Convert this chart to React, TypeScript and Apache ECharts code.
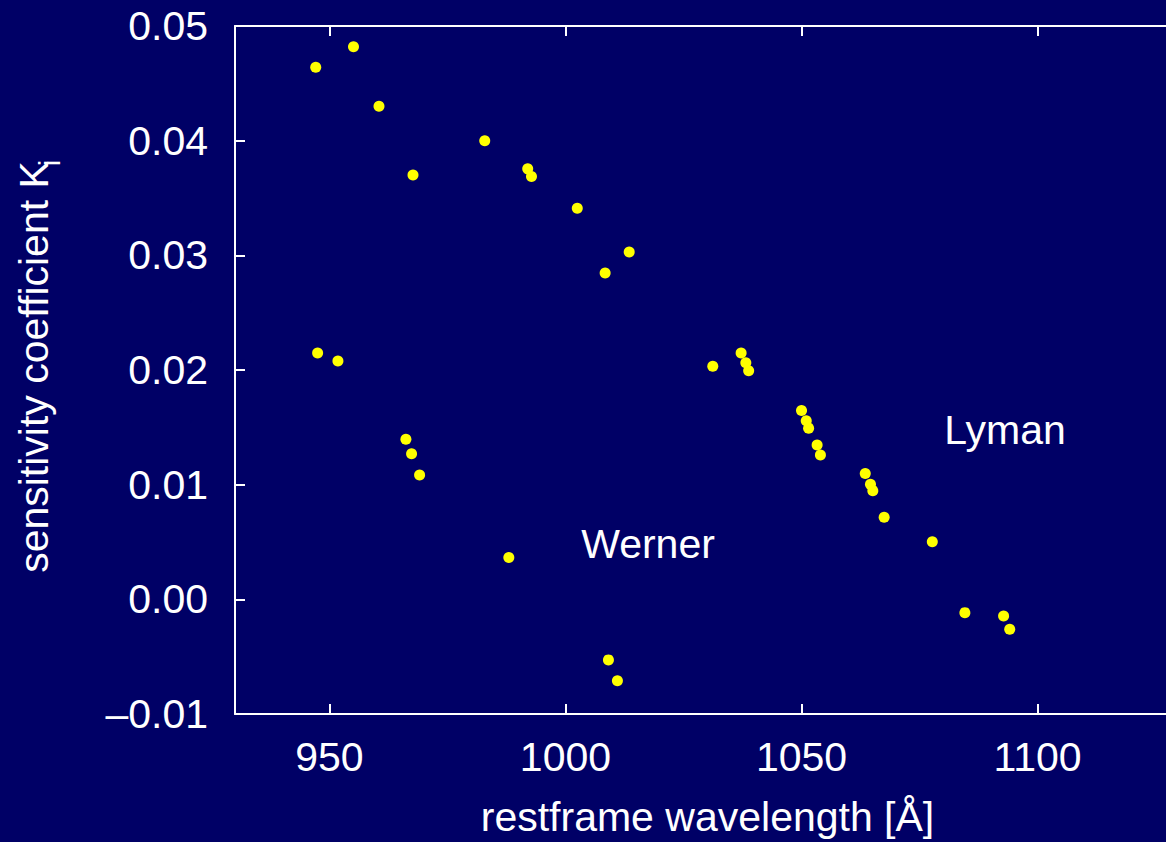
import React, { useEffect, useRef } from "react";
import * as echarts from "echarts";

// restframe wavelength [Å], sensitivity coefficient K_i
const wavelengths: number[] = [
  947.1, 955.1, 960.5, 982.9, 967.7, 992.0, 992.8, 1002.5, 1013.5, 1008.4,
  947.5, 951.8, 966.2, 967.4, 969.1, 988.0, 1009.1, 1011.0,
  1031.2, 1037.2, 1038.2, 1038.8, 1050.0, 1051.0, 1051.5, 1053.3, 1054.0,
  1063.5, 1064.6, 1065.1, 1067.5,
  1077.7, 1084.6, 1092.8, 1094.1,
];
const coefficients: number[] = [
  0.0464, 0.0482, 0.0430, 0.0400, 0.0370, 0.03754, 0.03687, 0.0341, 0.0303, 0.02846,
  0.02148, 0.02078, 0.01397, 0.0127, 0.01084, 0.00365, -0.00528, -0.0071,
  0.02032, 0.02148, 0.02064, 0.01994, 0.01646, 0.01557, 0.01493, 0.01345, 0.01258,
  0.01098, 0.01003, 0.00948, 0.00716,
  0.00502, -0.00116, -0.00145, -0.00261,
];
const xTickValues: number[] = [950, 1000, 1050, 1100];
const xRange: number[] = [930, 1127.2];
const yRange: number[] = [-0.01, 0.05];
const yStep = 0.01;
const xTitle = "restframe wavelength [Å]";
const yTitle = "sensitivity coefficient K";
const yTitleSub = "i";
const annotations: string[] = ["Werner", "Lyman"];

const FONT = '"Liberation Sans", Arial, Helvetica, sans-serif';
const BG = "#000066";
const FG = "#ffffff";

export default function App() {
  const ref = useRef<HTMLDivElement>(null);
  useEffect(() => {
    if (!ref.current) return;
    const chart = echarts.init(ref.current, undefined, { renderer: "svg" });
    const points = wavelengths.map((w, i) => [w, coefficients[i]]);
    const axisLine = { show: true, onZero: false, lineStyle: { color: FG, width: 2 } };
    chart.setOption({
      animation: false,
      backgroundColor: BG,
      grid: { left: 235, right: 0, top: 26, bottom: 126, containLabel: false },
      xAxis: [
        {
          type: "value",
          position: "bottom",
          min: xRange[0],
          max: xRange[1],
          axisLine,
          splitLine: { show: false },
          axisTick: { show: true, inside: true, length: 10, lineStyle: { color: FG, width: 2 }, customValues: xTickValues },
          axisLabel: {
            color: FG,
            fontSize: 41,
            fontFamily: FONT,
            margin: 22,
            customValues: xTickValues,
            formatter: (v: number) => String(v),
          },
          name: xTitle,
          nameLocation: "middle",
          nameGap: 82,
          nameTextStyle: { color: FG, fontSize: 41, fontFamily: FONT, padding: [0, 0, 0, 14] },
        },
        {
          type: "value",
          position: "top",
          min: xRange[0],
          max: xRange[1],
          axisLine,
          splitLine: { show: false },
          axisTick: { show: true, inside: true, length: 10, lineStyle: { color: FG, width: 2 }, customValues: xTickValues },
          axisLabel: { show: false },
        },
      ],
      yAxis: {
        type: "value",
        min: yRange[0],
        max: yRange[1],
        interval: yStep,
        axisLine,
        splitLine: { show: false },
        axisTick: { show: true, inside: true, length: 10, lineStyle: { color: FG, width: 2 } },
        axisLabel: {
          color: FG,
          fontSize: 41,
          fontFamily: FONT,
          margin: 27,
          formatter: (v: number) => (v < -1e-9 ? "–" + Math.abs(v).toFixed(2) : Math.abs(v).toFixed(2)),
        },
      },
      graphic: [
        {
          type: "text",
          x: 33.8,
          y: 367,
          rotation: Math.PI / 2,
          style: { text: yTitle, fill: FG, font: `41px ${FONT}`, align: "center", verticalAlign: "middle" },
        },
        {
          type: "text",
          x: 50,
          y: 163,
          rotation: Math.PI / 2,
          style: { text: yTitleSub, fill: FG, font: `29px ${FONT}`, align: "center", verticalAlign: "middle" },
        },
        {
          type: "text",
          x: 648,
          y: 544,
          style: { text: annotations[0], fill: FG, font: `41px ${FONT}`, align: "center", verticalAlign: "middle" },
        },
        {
          type: "text",
          x: 1005,
          y: 430,
          style: { text: annotations[1], fill: FG, font: `41px ${FONT}`, align: "center", verticalAlign: "middle" },
        },
      ],
      series: [
        {
          type: "scatter",
          xAxisIndex: 0,
          data: points,
          symbol: "circle",
          symbolSize: 11,
          itemStyle: { color: "#ffff00", opacity: 1 },
          silent: true,
        },
      ],
    });
    return () => chart.dispose();
  }, []);
  return (
    <div
      ref={ref}
      style={{ position: "fixed", left: 0, top: 0, width: 1166, height: 842 }}
    />
  );
}
